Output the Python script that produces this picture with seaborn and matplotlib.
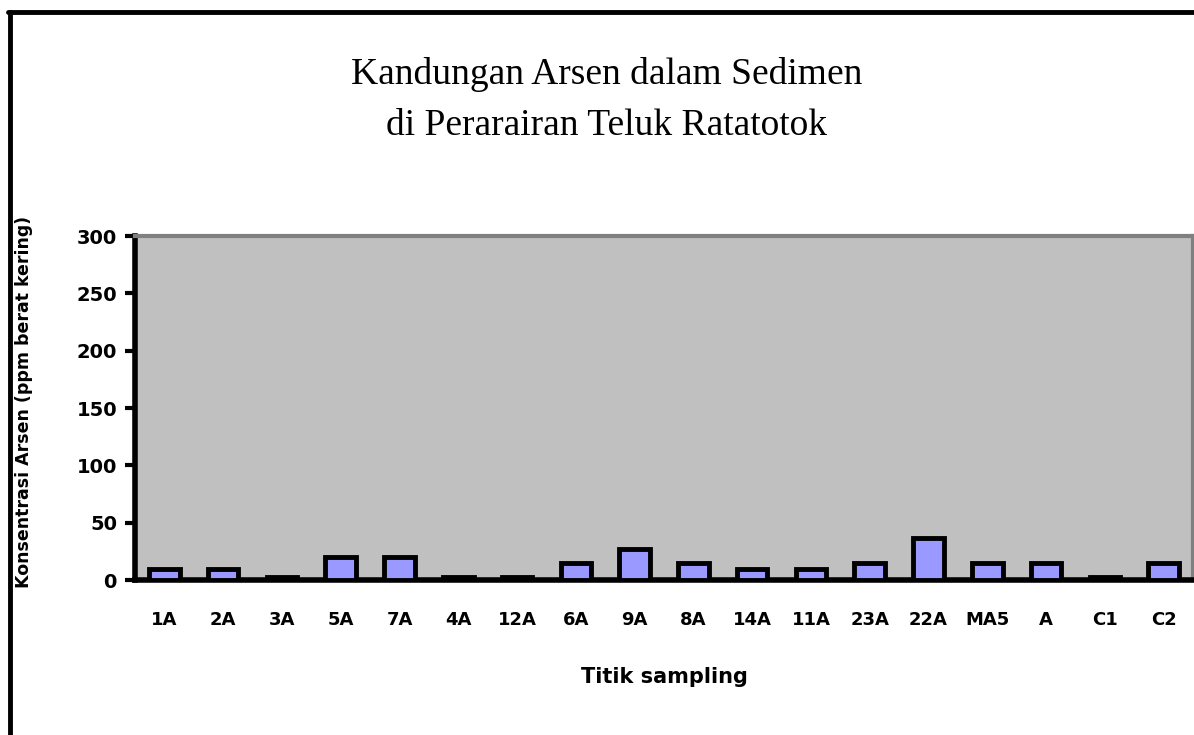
import matplotlib
matplotlib.use("Agg")
import matplotlib.pyplot as plt
import seaborn as sns
import pandas as pd
import numpy as np
from matplotlib.lines import Line2D

sites = ["1A", "2A", "3A", "5A", "7A", "4A", "12A", "6A", "9A", "8A",
         "14A", "11A", "23A", "22A", "MA5", "A", "C1", "C2"]
arsenic = [10, 10, 3, 20, 20, 3, 3, 15, 27, 15, 10, 10, 15, 37, 15, 15, 3, 15]
yticks = [0, 50, 100, 150, 200, 250, 300]

title = "Kandungan Arsen dalam Sedimen\ndi Perarairan Teluk Ratatotok"
xlabel = "Titik sampling"
ylabel = "Konsentrasi Arsen (ppm berat kering)"

df = pd.DataFrame({"site": sites, "arsen": arsenic})

sns.set_theme(style="white")
plt.rcParams['font.family'] = ['DejaVu Sans']
plt.rcParams['text.color'] = 'black'
plt.rcParams['axes.labelcolor'] = 'black'
plt.rcParams['xtick.color'] = 'black'
plt.rcParams['ytick.color'] = 'black'

fig = plt.figure(figsize=(11.94, 7.35), dpi=100)
ax = fig.add_axes([135/1194, 1 - 580/735, (1193-135)/1194, (580-236)/735])
ax.set_facecolor("#C0C0C0")

sns.barplot(data=df, x="site", y="arsen", color="#9999FF", saturation=1,
            edgecolor="black", linewidth=3.5, width=0.52, ax=ax, zorder=3)

ax.set_ylim(0, 300)
ax.set_xlim(-0.5, len(sites) - 0.5)
ax.set_yticks(yticks)
ax.set_yticklabels([str(v) for v in yticks], fontsize=14, fontweight="bold")
ax.set_xticks(range(len(sites)))
ax.set_xticklabels(sites, fontsize=13, fontweight="bold")
ax.set_xticks(np.arange(-0.5, len(sites), 1.0), minor=True)
ax.tick_params(axis="x", which="major", length=0, pad=22)
ax.tick_params(axis="x", which="minor", length=7, width=3, direction="out", color="black")
ax.tick_params(axis="y", which="major", length=7, width=3, direction="out", color="black", pad=6)
ax.tick_params(left=True, bottom=True)

for side in ["left", "bottom"]:
    ax.spines[side].set_color("black")
    ax.spines[side].set_linewidth(4)
for side in ["top", "right"]:
    ax.spines[side].set_color("#808080")
    ax.spines[side].set_linewidth(3)

ax.set_xlabel(xlabel, fontsize=15, fontweight="bold", labelpad=28)
ax.set_ylabel(ylabel, fontsize=12.5, fontweight="bold")
ax.yaxis.set_label_coords((33 - 135) / 1058, (580 - 402) / 344)

fig.text(607/1194, 1 - 100/735, title, ha="center", va="center", color="black",
         fontsize=27, family="Liberation Serif", linespacing=1.65)

# outer frame (cropped chart border)
fig.add_artist(Line2D([10/1194, 10/1194], [0, 1 - 12/735], color="black", lw=3.5,
                      transform=fig.transFigure))
fig.add_artist(Line2D([8/1194, 1], [1 - 12/735, 1 - 12/735], color="black", lw=3.5,
                      transform=fig.transFigure))

fig.savefig("out.png", dpi=100)
